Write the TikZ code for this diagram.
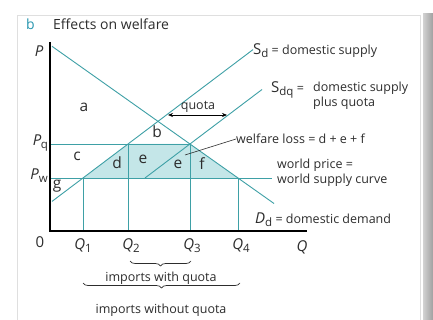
\documentclass[tikz,border=0pt]{standalone}
\usepackage{fontspec}
\setmainfont{Open Sans}
\usetikzlibrary{arrows.meta,decorations.pathreplacing}
\definecolor{teal1}{RGB}{62,160,166}
\definecolor{fillc}{RGB}{196,230,232}
\definecolor{txt}{RGB}{45,45,45}
\definecolor{hdr}{RGB}{40,150,175}
\tikzset{
  curve/.style={teal1,line width=0.9pt},
  guide/.style={teal1,line width=0.9pt},
  axisline/.style={black,line width=1.2pt},
  lbl/.style={text=txt,inner sep=0pt,font=\fontsize{12.5}{15}\selectfont},
  area/.style={text=txt,inner sep=0pt,font=\fontsize{15.5}{18}\selectfont},
  axlbl/.style={text=txt,inner sep=0pt,font=\fontsize{15}{18}\selectfont\itshape},
  brc/.style={txt,line width=0.7pt,decorate,decoration={brace,mirror,amplitude=5pt}}
}
\newcommand{\subsc}[1]{\raisebox{-3pt}{\upshape\fontsize{11.5}{13}\selectfont #1}}
\begin{document}
\begin{tikzpicture}[x=1pt,y=-1pt]
\useasboundingbox (0,0) rectangle (433,320);
% frame and shadow
\fill[white] (0,0) rectangle (433,320);
\shade[left color=gray!35,right color=gray!75] (423,14) rectangle (433,320);
\draw[gray!25,line width=0.8pt,fill=white] (17,15) rectangle (420,330);
% header
\node[anchor=base west,text=hdr,inner sep=0pt,font=\fontsize{14}{16}\selectfont] (hb) at (26,30) {b};
\node[anchor=base west,lbl,font=\fontsize{14}{16}\selectfont] (ht) at (53,30) {Effects on welfare};
% coordinates
\coordinate (O) at (50,231);
\coordinate (Ptop) at (50,42);
\coordinate (Qend) at (307,231);
\coordinate (Dtop) at (52,46.3);
\coordinate (Dbot) at (274,203.5);
\coordinate (Slow) at (52,201.4);
\coordinate (Shigh) at (253,49.6);
\coordinate (Sqlow) at (145,178);
\coordinate (Sqhigh) at (262,89.5);
\coordinate (Aq) at (50,144);
\coordinate (Aw) at (50,178);
\coordinate (W1) at (83,178);
\coordinate (Q2t) at (128,144);
\coordinate (Q3t) at (190,144);
\coordinate (W4) at (238,178);
\coordinate (Wend) at (272,178);
\coordinate (B1) at (83,231);
\coordinate (B2) at (128,231);
\coordinate (B3) at (190,231);
\coordinate (B4) at (238,231);
% shaded area
\fill[fillc] (W1) -- (Q2t) -- (Q3t) -- (W4) -- cycle;
% guides
\draw[guide] (Aq) -- (Q3t);
\draw[guide] (Aw) -- (Wend);
\draw[guide] (W1) -- (B1);
\draw[guide] (Q2t) -- (B2);
\draw[guide] (Q3t) -- (B3);
\draw[guide] (W4) -- (B4);
% curves
\draw[curve] (Dtop) -- (Dbot);
\draw[curve] (Slow) -- (Shigh);
\draw[curve] (Sqlow) -- (Sqhigh);
% axes
\draw[axisline] (Ptop) -- (O) -- (Qend);
% quota arrow
\coordinate (qa) at (168,115);
\coordinate (qb) at (227,115);
\draw[black,line width=0.6pt,{Stealth[length=5pt,width=4pt]}-{Stealth[length=5pt,width=4pt]}] (qa) -- (qb);
\node[lbl,anchor=base] (quota) at (198,110) {quota};
% axis labels
\node[axlbl] (lP) at (39,51) {P};
\node[axlbl,anchor=east] (lPq) at (48,143) {P\kern-0.5pt\subsc{q}};
\node[axlbl,anchor=east] (lPw) at (48,176) {P\subsc{w}};
\node[axlbl,font=\fontsize{15}{18}\selectfont] (l0) at (40,242) {0};
\node[axlbl] (lQ1) at (83,246) {Q\subsc{1}};
\node[axlbl] (lQ2) at (131,246) {Q\subsc{2}};
\node[axlbl] (lQ3) at (192,246) {Q\subsc{3}};
\node[axlbl] (lQ4) at (241,246) {Q\subsc{4}};
\node[axlbl] (lQ) at (302,247) {Q};
% area labels
\node[area] (la) at (84,107) {a};
\node[area] (lb) at (157,132) {b};
\node[area] (lc) at (77,156) {c};
\node[area] (ld) at (117,163) {d};
\node[area] (le1) at (143,159) {e};
\node[area] (le2) at (178,164) {e};
\node[area] (lf) at (202,164) {f};
\node[area] (lg) at (57,186) {g};
% right labels
\node[lbl,anchor=west] (lSd) at (253,51) {{\fontsize{15}{18}\selectfont S\subsc{d}} = domestic supply};
\node[lbl,anchor=west] (lSdq) at (271,90) {{\fontsize{15}{18}\selectfont S\subsc{dq}} =};
\node[lbl,anchor=north west,align=left] (lSdq2) at (313,82) {domestic supply\\plus quota};
\coordinate (wlp) at (185,155);
\node[lbl,anchor=west] (lwl) at (236,139) {welfare loss = d + e + f};
\draw[txt,line width=0.6pt] (wlp) -- (lwl.west);
\node[lbl,anchor=north west,align=left] (lwp) at (277,159) {world price =\\world supply curve};
\node[lbl,anchor=west] (lDd) at (255,220) {{\fontsize{15}{18}\selectfont\itshape D\subsc{d}} = domestic demand};
% braces
\coordinate (br1a) at (130,261);
\coordinate (br1b) at (191,261);
\draw[brc] (br1a) -- (br1b);
\node[lbl,anchor=base] (limq) at (161,281) {imports with quota};
\coordinate (br2a) at (83,283);
\coordinate (br2b) at (240,283);
\draw[brc] (br2a) -- (br2b);
\node[lbl,anchor=base] (limwq) at (161,313) {imports without quota};
\end{tikzpicture}
\end{document}
